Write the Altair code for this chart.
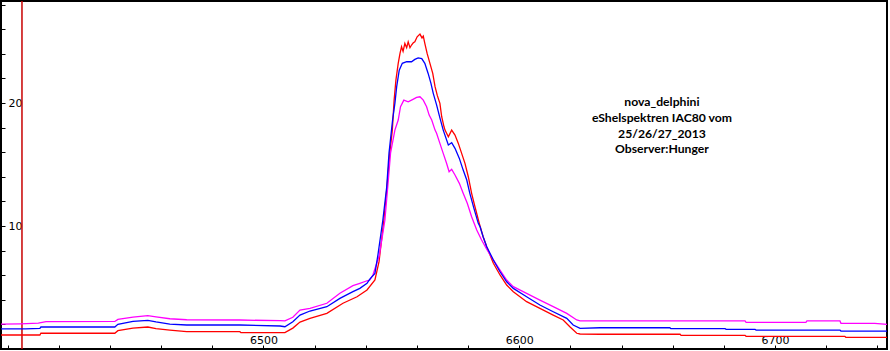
import altair as alt
import pandas as pd

# ---- data (wavelength in Angstrom, relative flux) ----
red_wl = [6397.4, 6412.6, 6413.0, 6441.9, 6443.1, 6449.0, 6454.8, 6458.0, 6463.4, 6470.0,
          6490.8, 6491.2, 6508.4, 6511.5, 6514.3, 6518.2, 6524.8, 6531.1, 6536.6, 6540.5,
          6543.6, 6545.2, 6547.1, 6548.3, 6549.4, 6550.4, 6551.1, 6551.8, 6552.7, 6553.4,
          6554.0, 6554.6, 6555.3, 6556.0, 6556.6, 6557.3, 6557.9, 6558.6, 6559.2, 6560.1,
          6561.2, 6562.0, 6562.5, 6563.1, 6564.0, 6565.1, 6566.2, 6567.1, 6568.0, 6569.0,
          6569.7, 6570.6, 6571.0, 6572.3, 6573.6, 6574.9, 6576.2, 6577.5, 6578.8, 6580.1,
          6581.4, 6582.7, 6584.4, 6585.9, 6587.3, 6589.9, 6592.5, 6595.1, 6597.7, 6602.9,
          6608.1, 6613.3, 6617.2, 6619.8, 6622.5, 6623.8, 6631.6, 6662.9, 6663.3, 6688.3,
          6688.7, 6727.3, 6727.7, 6743.8]
red_flux = [1.14, 1.14, 1.28, 1.28, 1.49, 1.70, 1.79, 1.65, 1.54, 1.41,
            1.41, 1.33, 1.33, 1.70, 2.19, 2.49, 2.90, 3.72, 4.25, 4.80,
            5.61, 7.10, 10.49, 13.17, 15.93, 17.80, 20.24, 21.87, 23.23, 24.04,
            24.58, 24.20, 24.85, 24.50, 24.98, 24.50, 24.72, 24.90, 24.98, 25.39,
            25.61, 25.30, 25.45, 24.85, 24.04, 23.23, 22.41, 21.33, 20.60, 19.98,
            18.89, 18.07, 17.80, 17.26, 17.80, 17.40, 16.72, 15.91, 15.10, 14.01,
            12.66, 11.57, 10.22, 9.13, 8.32, 6.97, 6.02, 5.20, 4.66, 3.85,
            3.31, 2.76, 2.36, 1.81, 1.28, 1.22, 1.20, 1.20, 1.11, 1.11,
            1.03, 1.03, 0.95, 0.95]

blue_wl = [6397.4, 6407.0, 6412.6, 6413.0, 6441.9, 6443.1, 6449.0, 6454.8, 6458.0, 6463.4,
           6470.0, 6490.8, 6506.5, 6508.4, 6511.5, 6514.3, 6518.2, 6524.8, 6529.9, 6535.0,
           6537.7, 6540.5, 6541.6, 6543.6, 6544.8, 6546.7, 6548.2, 6549.1, 6550.5, 6551.4,
           6552.1, 6553.1, 6554.3, 6556.0, 6557.9, 6559.2, 6560.5, 6561.9, 6563.1, 6564.4,
           6565.5, 6566.4, 6567.7, 6569.0, 6570.3, 6572.3, 6573.6, 6574.9, 6576.6, 6578.1,
           6579.5, 6580.7, 6582.3, 6584.0, 6584.7, 6585.9, 6587.3, 6589.9, 6592.5, 6595.1,
           6597.7, 6602.9, 6608.1, 6613.3, 6618.6, 6621.1, 6623.8, 6631.6, 6658.9, 6659.3,
           6680.5, 6680.9, 6692.2, 6692.6, 6725.4, 6725.8, 6743.8]
blue_flux = [1.63, 1.63, 1.68, 1.79, 1.79, 2.01, 2.25, 2.33, 2.20, 2.03,
             1.95, 1.95, 1.87, 1.81, 2.22, 2.76, 3.09, 3.44, 4.12, 4.66,
             4.93, 5.34, 5.69, 6.15, 7.70, 10.49, 13.17, 15.93, 18.62, 19.98,
             21.33, 22.68, 23.23, 23.36, 23.36, 23.55, 23.68, 23.62, 23.23, 22.41,
             21.60, 20.79, 19.85, 18.80, 17.80, 16.59, 16.77, 16.32, 15.50, 14.55,
             13.74, 12.66, 11.44, 10.22, 9.94, 9.13, 8.32, 7.24, 6.28, 5.47,
             4.93, 4.25, 3.58, 3.03, 2.49, 1.95, 1.68, 1.73, 1.73, 1.65,
             1.65, 1.60, 1.60, 1.54, 1.54, 1.46, 1.46]

magenta_wl = [6397.4, 6405.0, 6412.0, 6415.0, 6441.9, 6443.1, 6449.0, 6454.8, 6458.0, 6463.4,
              6470.0, 6490.8, 6506.5, 6508.4, 6511.5, 6514.3, 6518.2, 6524.8, 6529.9, 6535.0,
              6537.7, 6540.5, 6541.6, 6542.8, 6545.3, 6547.5, 6548.6, 6549.7, 6551.4, 6552.7,
              6553.6, 6554.9, 6556.6, 6557.9, 6559.9, 6561.2, 6562.5, 6563.8, 6564.8, 6565.8,
              6567.1, 6567.7, 6569.0, 6570.3, 6571.6, 6572.6, 6573.6, 6574.9, 6576.6, 6578.1,
              6579.7, 6581.4, 6583.4, 6585.3, 6587.3, 6589.9, 6592.5, 6595.1, 6597.7, 6602.9,
              6608.1, 6613.3, 6618.6, 6622.5, 6623.8, 6688.3, 6688.7, 6712.1, 6712.5, 6725.4,
              6725.8, 6739.0, 6743.8]
magenta_flux = [2.03, 2.05, 2.10, 2.22, 2.24, 2.41, 2.60, 2.71, 2.62, 2.46,
                2.38, 2.36, 2.30, 2.28, 2.58, 3.17, 3.31, 3.72, 4.53, 5.15,
                5.34, 5.55, 5.61, 6.02, 7.60, 10.49, 13.17, 15.93, 17.80, 18.62,
                19.70, 20.24, 20.10, 20.24, 20.46, 20.51, 20.24, 19.70, 19.02, 18.62,
                17.80, 17.54, 16.72, 15.91, 15.10, 14.41, 14.61, 14.15, 13.47, 12.66,
                11.85, 10.76, 9.67, 8.86, 8.11, 7.24, 6.42, 5.61, 5.07, 4.53,
                3.98, 3.44, 2.90, 2.36, 2.28, 2.28, 2.17, 2.17, 2.28, 2.28,
                2.09, 2.09, 2.01]

marker_wl = [6405.6]

note_lines = ["nova_delphini", "eShelspektren IAC80 vom", "25/26/27_2013", "Observer:Hunger"]
note_wl = [6655.8, 6655.8, 6655.8, 6655.8]
note_flux = [20.08, 18.78, 17.48, 16.26]

x_ticks = list(range(6400, 6741, 20))
x_labels = [6500, 6600, 6700]
y_ticks = list(range(2, 29, 2))
y_labels = [10, 20]

# ---- tables ----
rows = []
for name, wl, fl in [("red", red_wl, red_flux), ("magenta", magenta_wl, magenta_flux),
                     ("blue", blue_wl, blue_flux)]:
    for i, (w, f) in enumerate(zip(wl, fl)):
        rows.append({"series": name, "wl": w, "flux": f, "idx": i})
df = pd.DataFrame(rows)

xscale = alt.Scale(domain=[6397.4, 6743.8], nice=False, zero=False)
yscale = alt.Scale(domain=[0, 28.3], nice=False, zero=False)

x_expr = "indexof([" + ",".join(str(v) for v in x_labels) + "], datum.value) >= 0 ? datum.label : ''"
y_expr = "indexof([" + ",".join(str(v) for v in y_labels) + "], datum.value) >= 0 ? datum.label : ''"

xaxis = alt.Axis(values=x_ticks, format="d", title=None, grid=False, domain=False,
                 offset=-4, tickSize=4, tickColor="black", tickWidth=1,
                 labelExpr=x_expr,
                 labelBaseline="alphabetic", labelPadding=-5.5, labelFont="DejaVu Sans",
                 labelFontSize=11, labelColor="black", labelOverlap=False, labelFlush=False)
yaxis = alt.Axis(values=y_ticks, format="d", title=None, grid=False, domain=False,
                 offset=-4, tickSize=4, tickColor="black", tickWidth=1,
                 labelExpr=y_expr,
                 labelAlign="left", labelBaseline="middle", labelPadding=-7,
                 labelFont="DejaVu Sans", labelFontSize=11, labelColor="black",
                 labelOverlap=False, labelFlush=False)

colors = {"red": "#ff0000", "magenta": "#ff00ff", "blue": "#0000ff"}

layers = []
for name in ["red", "magenta", "blue"]:
    layers.append(
        alt.Chart(df).transform_filter(alt.datum.series == name)
        .mark_line(color=colors[name], strokeWidth=1.3)
        .encode(
            x=alt.X("wl:Q", scale=xscale, axis=xaxis),
            y=alt.Y("flux:Q", scale=yscale, axis=yaxis),
            order="idx:Q",
        )
    )

marker = alt.Chart(pd.DataFrame({"wl": marker_wl})).mark_rule(
    color="#c80000", strokeWidth=1.5).encode(x=alt.X("wl:Q", scale=xscale, axis=xaxis))

note = alt.Chart(pd.DataFrame({"t": note_lines, "wl": note_wl, "flux": note_flux})).mark_text(
    font="Lato", fontWeight="bold", fontSize=12.2, align="center", baseline="middle",
    color="black").encode(
    x=alt.X("wl:Q", scale=xscale, axis=xaxis),
    y=alt.Y("flux:Q", scale=yscale, axis=yaxis),
    text="t:N")

chart = alt.layer(marker, *layers, note).properties(
    width=886, height=348,
    autosize=alt.AutoSizeParams(type="none"),
    padding={"left": 1, "top": 1, "right": 3, "bottom": 2},
    background="white",
).configure_view(stroke="black", strokeWidth=2)

chart.save("out.html", embed_options={"renderer": "svg", "actions": False})
